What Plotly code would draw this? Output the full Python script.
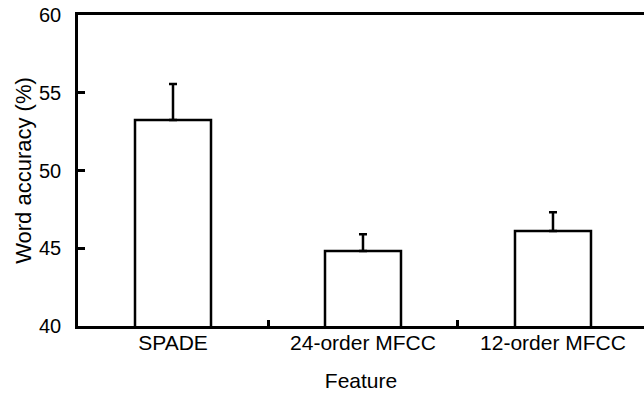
import plotly.graph_objects as go

# Word accuracy by feature type, with upward error bars
features = ["SPADE", "24-order MFCC", "12-order MFCC"]
accuracy = [53.25, 44.82, 46.11]
error_up = [2.32, 1.08, 1.21]

y_ticks = [40, 45, 50, 55, 60]

FONT = "Liberation Sans, Arial, sans-serif"

fig = go.Figure()
fig.add_trace(go.Bar(
    x=features,
    y=accuracy,
    width=0.4,
    marker=dict(color="white", line=dict(color="black", width=2.5)),
    error_y=dict(type="data", array=error_up, arrayminus=[0] * len(error_up),
                 symmetric=False, color="black", thickness=2.5, width=4),
    showlegend=False,
))

fig.update_layout(
    width=644, height=394,
    margin=dict(l=78, r=0, t=15, b=68),
    plot_bgcolor="white", paper_bgcolor="white",
    font=dict(family=FONT, size=20, color="black"),
    xaxis=dict(
        type="category",
        range=[-0.5, 2.479],
        showline=True, linecolor="black", linewidth=2.5, mirror=True,
        ticks="inside", ticklen=6, tickwidth=2.5, tickcolor="black",
        tickson="boundaries",
        tickfont=dict(size=21),
        ticklabelstandoff=-4,
        showgrid=False, zeroline=False,
        title=dict(text="Feature", standoff=21, font=dict(size=21)),
    ),
    yaxis=dict(
        range=[40, 60],
        tickvals=y_ticks,
        showline=True, linecolor="black", linewidth=2.5,
        ticks="inside", ticklen=7, tickwidth=2.5, tickcolor="black",
        tickfont=dict(size=20),
        ticklabelstandoff=10,
        showgrid=False, zeroline=False,
        title=dict(text="Word accuracy (%)", standoff=2, font=dict(size=22)),
    ),
)

fig.write_html("out.html")
